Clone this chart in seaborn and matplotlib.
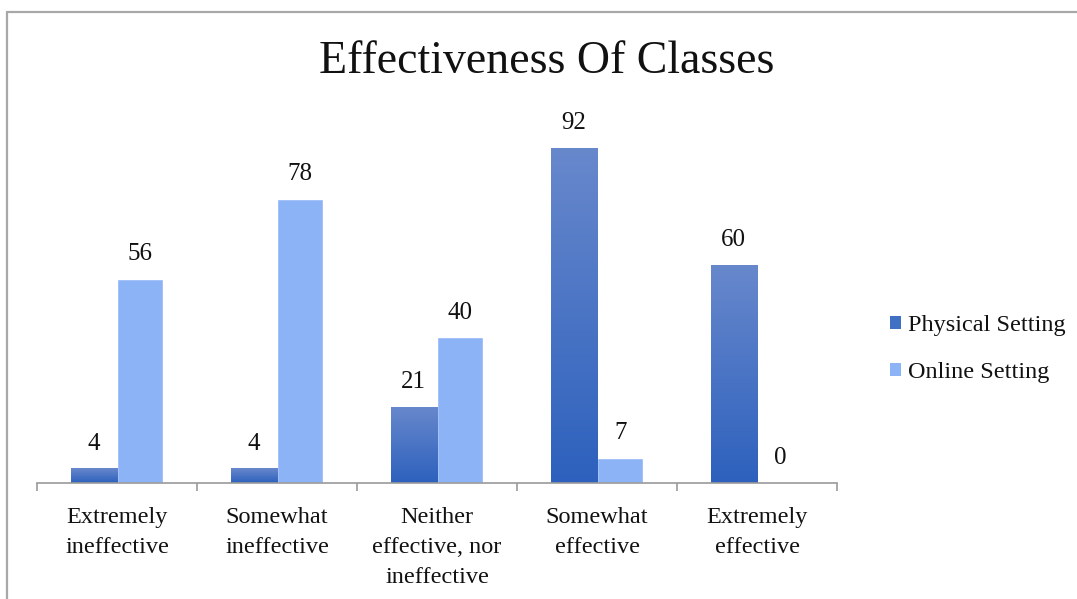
import numpy as np
import pandas as pd
import matplotlib
matplotlib.use("Agg")
import matplotlib.pyplot as plt
from matplotlib.lines import Line2D
from matplotlib.patches import Patch
from matplotlib.colors import LinearSegmentedColormap
import seaborn as sns

# Survey responses
categories = ["Extremely\nineffective", "Somewhat\nineffective",
              "Neither\neffective, nor\nineffective", "Somewhat\neffective",
              "Extremely\neffective"]
physical = [4, 4, 21, 92, 60]
online = [56, 78, 40, 7, 0]
series = ["Physical Setting", "Online Setting"]

df = pd.DataFrame({
    "category": categories * 2,
    "setting": [series[0]] * len(categories) + [series[1]] * len(categories),
    "count": physical + online,
})

sns.set_theme(style="white")
plt.rcParams["font.family"] = ["Liberation Serif", "DejaVu Serif"]

PHYS_TOP = "#6888cc"
PHYS_BOT = "#2d61bd"
ONLINE = "#8db3f7"

fig = plt.figure(figsize=(10.77, 5.99), dpi=100)
ax = fig.add_axes([37 / 1077, 116 / 599, 800 / 1077, 364 / 599])

sns.barplot(data=df, x="category", y="count", hue="setting",
            palette=[PHYS_BOT, ONLINE], width=0.58, saturation=1,
            legend=False, ax=ax)
ax.set_ylim(0, 100)
ax.set_xlim(-0.5, len(categories) - 0.5)

# vertical gradient fill for the physical-setting bars
cmap = LinearSegmentedColormap.from_list("phys", [PHYS_BOT, PHYS_TOP])
grad = np.linspace(0, 1, 256).reshape(-1, 1)
for bar in ax.containers[0]:
    x0, y0 = bar.get_x(), bar.get_y()
    w, h = bar.get_width(), bar.get_height()
    if h <= 0:
        continue
    img = ax.imshow(grad, cmap=cmap, origin="lower", aspect="auto",
                    extent=(x0, x0 + w, y0, y0 + h), zorder=bar.get_zorder())
    img.set_clip_path(bar)
    bar.set_facecolor("none")
ax.set_xlim(-0.5, len(categories) - 0.5)
ax.set_ylim(0, 100)

for cont in ax.containers:
    ax.bar_label(cont, padding=10, fontsize=18, color="#111111")

# axis styling
for side in ["top", "right", "left"]:
    ax.spines[side].set_visible(False)
ax.spines["bottom"].set_color("#9a9a9a")
ax.spines["bottom"].set_linewidth(1.2)
ax.set_yticks([])
ax.set_xlabel("")
ax.set_ylabel("")
ax.set_xticks(np.arange(-0.5, len(categories)), minor=True)
ax.tick_params(axis="x", which="major", length=0, pad=17, labelsize=17.5,
               labelcolor="#111111")
ax.tick_params(axis="x", which="minor", length=6, width=1.2,
               color="#9a9a9a", bottom=True)
for lab in ax.get_xticklabels():
    lab.set_linespacing(1.58)

fig.text(547 / 1077, 1 - 62 / 599, "Effectiveness Of Classes",
         ha="center", va="center", fontsize=33, color="#111111")

handles = [Patch(facecolor="#4070c4", edgecolor="none"),
           Patch(facecolor=ONLINE, edgecolor="none")]
fig.legend(handles, series, loc="center left",
           bbox_to_anchor=(868 / 1077, 1 - 349 / 599), frameon=False,
           fontsize=17.5, handlelength=0.45, handleheight=0.45,
           handletextpad=0.3, labelspacing=1.05, labelcolor="#111111")

# chart frame
fig.add_artist(Line2D([7 / 1077, 7 / 1077], [0, 1 - 12 / 599],
                      transform=fig.transFigure, color="#a8a8a8", lw=1.6))
fig.add_artist(Line2D([7 / 1077, 1], [1 - 12 / 599, 1 - 12 / 599],
                      transform=fig.transFigure, color="#a8a8a8", lw=1.6))

fig.savefig("out.png", dpi=100, facecolor="white")
